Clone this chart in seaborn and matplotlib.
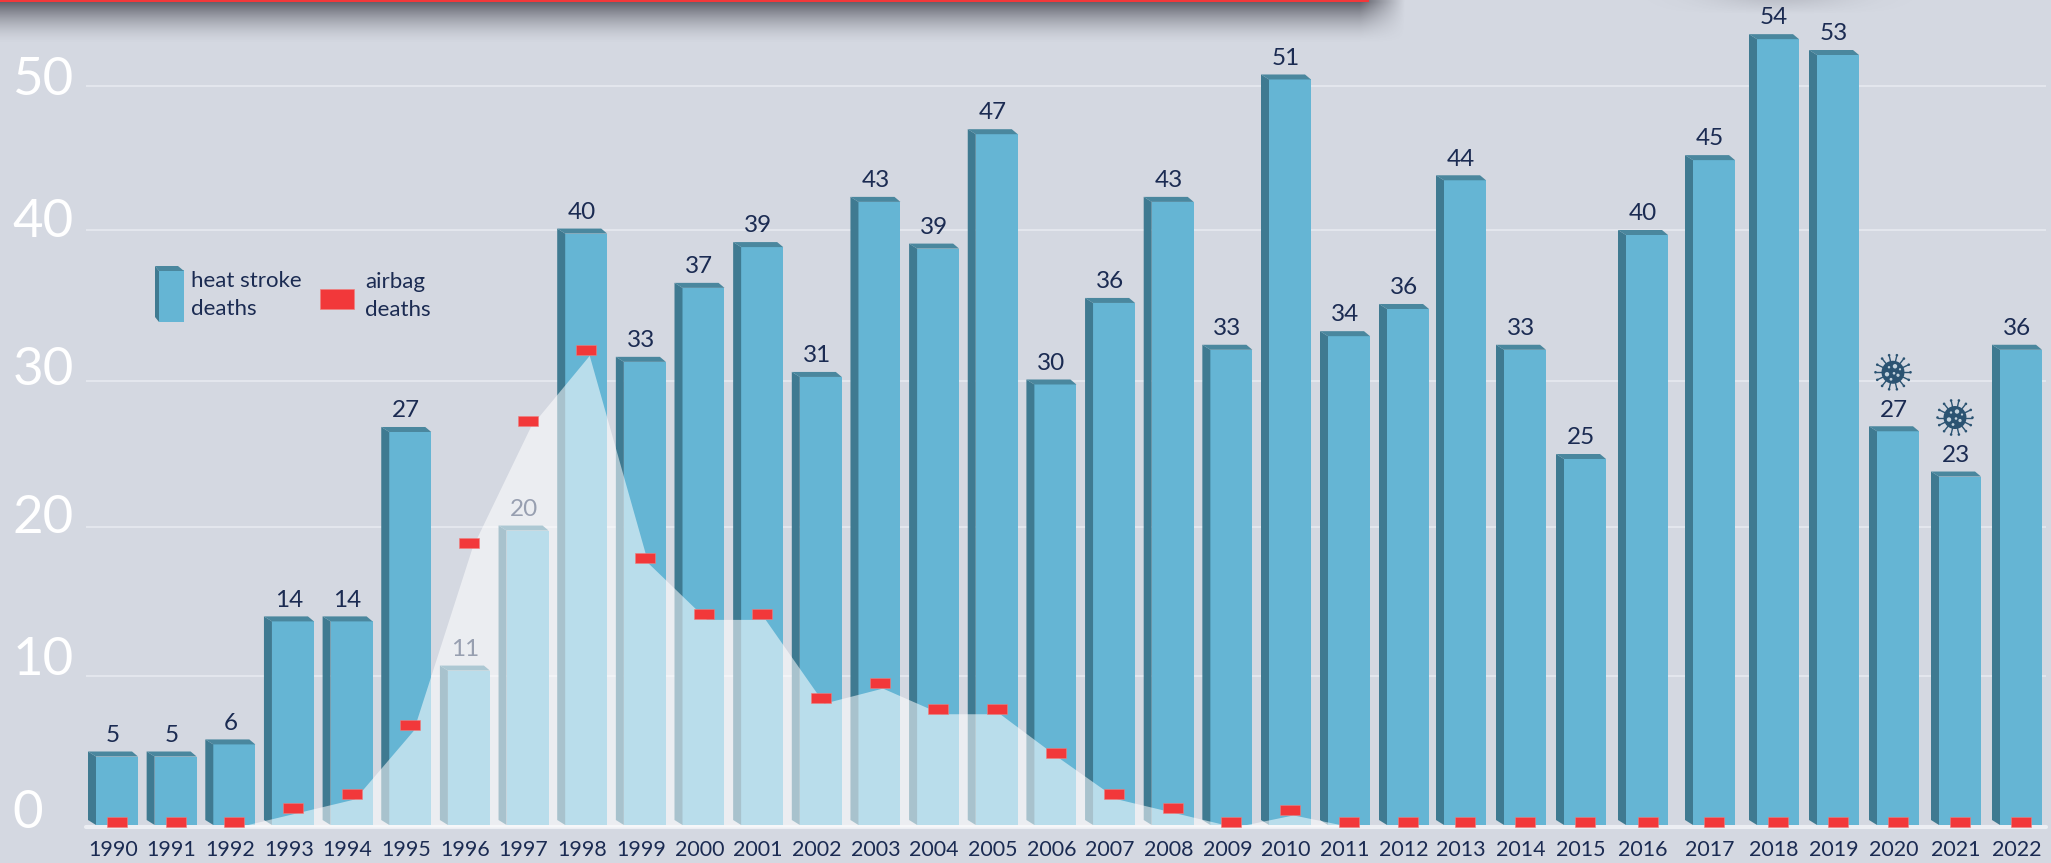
import numpy as np
import pandas as pd
import matplotlib
matplotlib.use('Agg')
import matplotlib.pyplot as plt
import seaborn as sns
from matplotlib.patches import Polygon, Rectangle, Circle
from matplotlib.path import Path
from matplotlib.transforms import ScaledTranslation

## Data
years = np.arange(1990, 2023)
# printed labels and drawn heights differ in a few places on the original
heat_labels = [5, 5, 6, 14, 14, 27, 11, 20, 40, 33, 37, 39, 31, 43, 39, 47, 30, 36, 43, 33, 51,
               34, 36, 44, 33, 25, 40, 45, 54, 53, 27, 23, 36]
heat_heights = [5.0, 5.0, 5.8, 14.0, 14.0, 26.85, 10.7, 20.1, 40.1, 31.6, 36.5, 39.2, 30.6, 42.3, 39.1, 47.0, 30.1,
                35.5, 42.3, 32.4, 50.8, 33.3, 35.1, 43.8, 32.4, 25.0, 40.0, 45.2, 53.6, 52.5, 26.9, 23.8, 32.4]
airbag_deaths = [0, 0, 0, 0.93, 1.86, 6.4, 18.6, 26.9, 31.7, 17.6, 13.8, 13.8, 8.2, 9.2, 7.5, 7.5, 4.6,
                 1.86, 0.93, 0, 0.8, 0, 0, 0, 0, 0, 0, 0, 0, 0, 0, 0, 0]
y_ticks = [0, 10, 20, 30, 40, 50]
virus_years = [2020, 2021]

## Layout (pixels of the 2051x863 picture)
W, H = 2051, 863
BASE_Y = 827
# neither axis is evenly spaced on the original
knot_years = [1989, 1990, 2010, 2011, 2012, 2013, 2014, 2015, 2016, 2017, 2018, 2019, 2020, 2021, 2022, 2023]
knot_px = [54, 113, 1286, 1345, 1404, 1461, 1521, 1581, 1643, 1710, 1774, 1834, 1894, 1956, 2017, 2078]
knot_vals = [0, 10, 20, 30, 40, 50, 60]
knot_rise = [0, 151, 300, 446, 597, 741, 885]  # pixels above the baseline
label_shift = [1, -1, 6, 4, 7, 9]  # baseline of the y labels under each grid line

BG = '#d4d8e1'
FRONT = '#65b5d4'
SIDE = '#3f7a91'
TOP = '#4a879e'
NAVY = '#1b2b52'
RED = '#f2383a'

sns.set_theme(style='white')
plt.rcParams['font.family'] = ['Lato', 'DejaVu Sans']

df = pd.DataFrame({'year': years, 'heat': heat_heights, 'airbag': airbag_deaths})

fig = plt.figure(figsize=(W / 100, H / 100), dpi=100, facecolor=BG)
ax = fig.add_axes([86 / W, (H - BASE_Y) / H, (2046 - 86) / W, BASE_Y / H], facecolor=BG)
# overlay in picture pixels, for the decoration
over = fig.add_axes([0, 0, 1, 1], zorder=5)
over.set_xlim(0, W)
over.set_ylim(H, 0)
over.axis('off')
px = over.transData

sns.barplot(data=df, x='year', y='heat', native_scale=True, color=FRONT, saturation=1, width=0.85,
            edgecolor='none', linewidth=0, ax=ax, zorder=2)


def forward(x):
    return np.interp(x, knot_years, knot_px)


def inverse(x):
    return np.interp(x, knot_px, knot_years)


def rise(v):
    return np.interp(v, knot_vals, knot_rise)


def unrise(p):
    return np.interp(p, knot_rise, knot_vals)


ax.set_xscale('function', functions=(forward, inverse))
ax.set_yscale('function', functions=(rise, unrise))
ax.set_xlim(inverse(86), inverse(2046))
ax.set_ylim(0, unrise(BASE_Y))
ax.set_xlabel('')
ax.set_ylabel('')
sns.despine(ax=ax, left=True, bottom=True, top=True, right=True)

# grid and axis labels
ax.set_yticks(y_ticks, labels=[str(t) for t in y_ticks])
ax.yaxis.grid(True, color='#e7eaf0', linewidth=1.2, zorder=1)
ax.xaxis.grid(False)
ax.set_axisbelow(True)
ax.axhline(0, color='#eceef3', linewidth=3, zorder=1, clip_on=False)
ax.tick_params(axis='y', which='both', length=0, pad=53, labelsize=38, labelcolor='white')
ax.yaxis.set_minor_locator(matplotlib.ticker.NullLocator())
ax.xaxis.set_minor_locator(matplotlib.ticker.NullLocator())
for lab, shift in zip(ax.get_yticklabels(), label_shift):
    lab.set_ha('left')
    lab.set_va('baseline')
    lab.set_transform(lab.get_transform() + ScaledTranslation(0, -shift / 100, fig.dpi_scale_trans))
ax.set_xticks(years, labels=[str(y) for y in years])
ax.tick_params(axis='x', which='both', length=0, pad=9, labelsize=15.4, labelcolor=NAVY)


def bar_3d(target, left, top, base, transform, width=50, depth=8, zorder=2):
    """Dark left side and top of a fake 3D bar, given in pixels."""
    side = Polygon([(left, top), (left + depth, top + 5), (left + depth, base), (left, base - 5)],
                   facecolor=SIDE, edgecolor='none', transform=transform, zorder=zorder)
    lid = Polygon([(left, top), (left + width - 6, top), (left + width, top + 5), (left + depth, top + 5)],
                  facecolor=TOP, edgecolor='none', transform=transform, zorder=zorder)
    target.add_patch(side)
    target.add_patch(lid)


# turn every flat bar from seaborn into the front face of a 3D bar
bar_px = {}
for year, value, patch in zip(years, heat_heights, ax.patches):
    centre = forward(year)
    top = BASE_Y - rise(value)
    left = centre - 25
    bar_px[year] = (centre, top)
    x0 = inverse(left + 8)
    x1 = inverse(left + 50)
    patch.set_bounds(x0, unrise(2), x1 - x0, unrise(rise(value) - 5) - unrise(2))
    patch.set_zorder(2)
    bar_3d(ax, left, top, BASE_Y - 2, px)

# value labels
for year, value, label in zip(years, heat_heights, heat_labels):
    ax.annotate(str(label), (year, value), xytext=(0, 7), textcoords='offset points', ha='center',
                va='baseline', fontsize=17.5, color=NAVY, zorder=3)

# airbag deaths: translucent area with a red dash on every year
ax.fill_between(years + 0.12, 0, airbag_deaths, color='white', alpha=0.55, linewidth=0, zorder=4)
dash = Path([(-1, 0), (1, 0), (1, 1), (-1, 1), (-1, 0)], closed=True)
sns.scatterplot(data=df.assign(year=years + 0.07), x='year', y='airbag', marker=dash, s=225, color=RED,
                edgecolor='#ee8080', linewidth=0.4, ax=ax, zorder=5, clip_on=False, legend=False)
ax.set_xlabel('')
ax.set_ylabel('')


def virus(cx, cy):
    colour = '#2b5372'
    over.add_patch(Circle((cx, cy), 11.5, color=colour, lw=0))
    for ang in np.linspace(0, 2 * np.pi, 14, endpoint=False):
        over.plot([cx + 11 * np.cos(ang), cx + 17 * np.cos(ang)], [cy + 11 * np.sin(ang), cy + 17 * np.sin(ang)],
                  color=colour, lw=1)
        over.add_patch(Circle((cx + 17.5 * np.cos(ang), cy + 17.5 * np.sin(ang)), 1.3, color=colour, lw=0))
    for dx, dy, r in [(-6, 2, 2.2), (2, -6, 2.2), (5, 3, 1.6), (-2, 7, 1.4), (-4, -5, 1.2), (7, -3, 1.1), (1, 1, 1.3)]:
        over.add_patch(Circle((cx + dx, cy + dy), r, color='#c4d3de', lw=0))


for year in virus_years:
    centre, top = bar_px[year]
    virus(centre - 1, top - 54)

# legend
over.add_patch(Rectangle((159, 270), 25, 52, facecolor=FRONT, edgecolor='none'))
bar_3d(over, 155, 266, 322, px, width=29, depth=4)
over.text(191, 295, 'heat stroke\ndeaths', fontsize=16, color=NAVY, va='center', ha='left', linespacing=1.45)
over.add_patch(Rectangle((320, 289), 33.5, 20, facecolor=RED, edgecolor='#ee8080', linewidth=0.5))
over.text(365, 296, 'airbag\ndeaths', fontsize=16, color=NAVY, va='center', ha='left', linespacing=1.45)

# red banner with its drop shadow, cut off by the top edge
sx = np.arange(W) + 0.5
sy = np.arange(46) + 0.5
fade_x = np.clip((1405 - sx) / 45, 0, 1)
fade_y = np.clip(1 - (sy - 2) / 42, 0, 1) ** 1.6
shade = np.zeros((46, W, 4))
shade[..., :3] = np.array([0.2, 0.2, 0.24])
shade[..., 3] = 0.72 * np.outer(fade_y, fade_x)
# a fainter one further right
shade[..., 3] += 0.14 * np.outer(np.clip(1 - sy / 14, 0, 1), np.exp(-((sx - 1780) / 70) ** 2))
over.imshow(shade, extent=(0, W, 46, 0), aspect='auto', zorder=1, interpolation='bilinear')
over.add_patch(Rectangle((0, 0), 1369, 2.5, facecolor=RED, edgecolor='none', zorder=2))
over.set_xlim(0, W)
over.set_ylim(H, 0)

fig.savefig('out.png', dpi=100, facecolor=BG)
